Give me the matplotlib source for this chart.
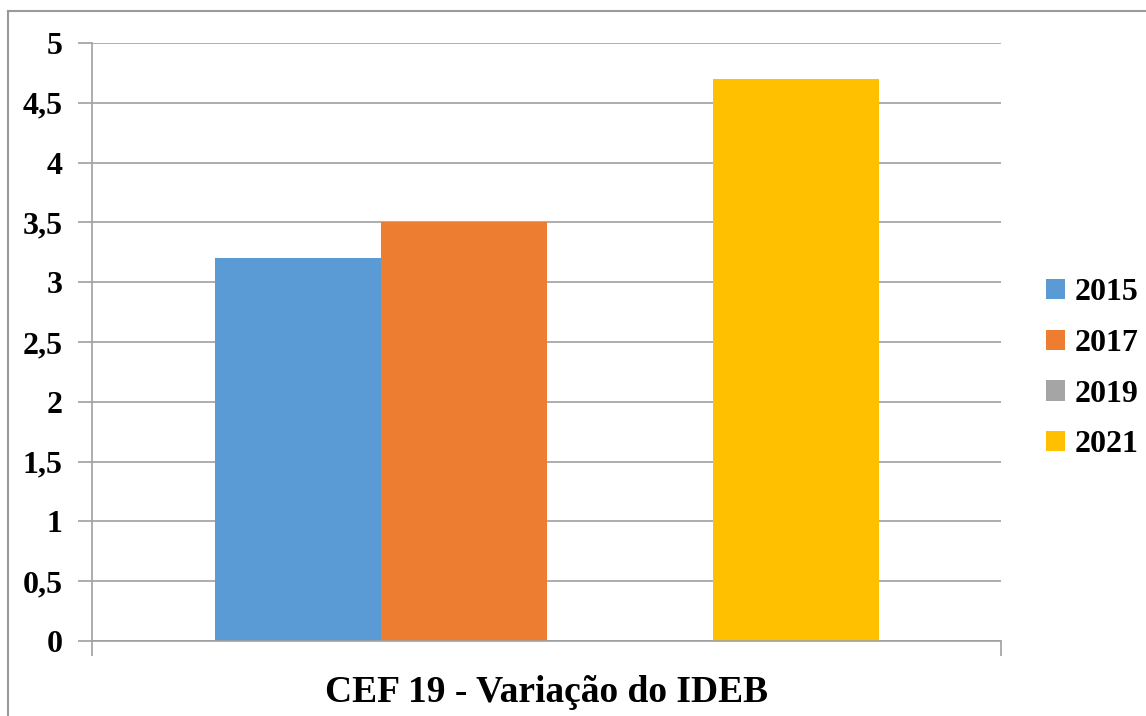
import numpy as np
import matplotlib.pyplot as plt
from matplotlib.lines import Line2D

anos = ["2015", "2017", "2019", "2021"]
ideb = [3.2, 3.5, 0.0, 4.7]
cores = ["#5b9bd5", "#ed7d31", "#a5a5a5", "#ffc000"]
y_ticks = [0, 0.5, 1, 1.5, 2, 2.5, 3, 3.5, 4, 4.5, 5]
titulo = "CEF 19 - Variação do IDEB"

plt.rcParams['font.family'] = ['Liberation Serif', 'DejaVu Serif']
plt.rcParams['font.weight'] = 'bold'

W, H = 1146, 716
fig = plt.figure(figsize=(W / 100, H / 100), dpi=100)
ax = fig.add_axes([92 / W, 1 - 641 / H, (1001 - 92) / W, (641 - 43) / H])

grid_c = "#a0a0a0"
bw = 166 / 909
n = len(anos)
for i, (a, v, c) in enumerate(zip(anos, ideb, cores)):
    x = (i - (n - 1) / 2) * bw
    ax.bar(x, v, width=bw, color=c, label=a, zorder=2)

ax.set_xlim(-0.5, 0.5)
ax.set_ylim(0, 5)
ax.set_yticks(y_ticks)
ax.set_yticklabels([("%g" % t).replace(".", ",") for t in y_ticks],
                   fontsize=23, fontweight='bold')
ax.set_xticks([-0.5, 0.5])
ax.set_xticklabels(["", ""])
ax.tick_params(axis='y', length=10, color=grid_c, width=1.2, pad=11)
ax.tick_params(axis='x', length=11, color=grid_c, width=1.2)
ax.grid(axis='y', color=grid_c, linewidth=1.2, zorder=0)
for s in ["top", "right"]:
    ax.spines[s].set_visible(False)
for s in ["left", "bottom"]:
    ax.spines[s].set_color(grid_c)
    ax.spines[s].set_linewidth(1.2)

ax.set_xlabel(titulo, fontsize=27, fontweight='bold', labelpad=10)

leg = ax.legend(loc='center left', bbox_to_anchor=(1.018, 0.455), frameon=False,
                prop={'size': 23, 'weight': 'bold'}, handlelength=0.6,
                handleheight=0.6, handletextpad=0.3, labelspacing=0.68)

# chart border
fig.add_artist(Line2D([8 / W, 8 / W], [0, 1 - 11 / H], color="#9a9a9a", lw=1.5))
fig.add_artist(Line2D([8 / W, 1], [1 - 11 / H, 1 - 11 / H], color="#9a9a9a", lw=1.5))

fig.savefig("out.png", dpi=100, facecolor="white")
